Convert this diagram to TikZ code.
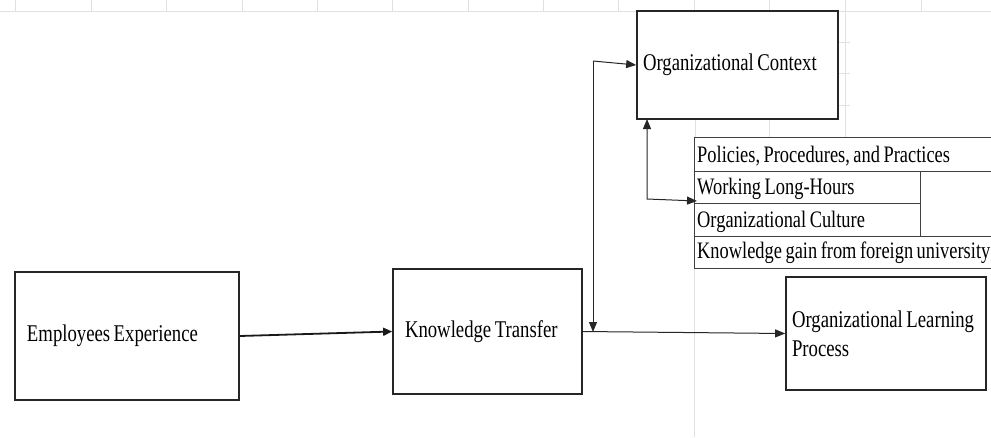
\documentclass[tikz,border=0pt]{standalone}
\usepackage{fontspec}
\setmainfont{Liberation Serif}
\usetikzlibrary{arrows.meta}
\newcommand{\sq}[1]{\scalebox{0.78}[1]{\spaceskip=0.19em plus 0.05em\relax #1}}
\tikzset{
  box/.style={draw=black!85, line width=1.7pt, rectangle, align=left, anchor=center,
    font=\fontsize{24}{29}\selectfont, inner ysep=0pt},
  cell/.style={anchor=base west, inner sep=0pt, font=\fontsize{23.6}{28}\selectfont},
  tline/.style={draw=black!75, line width=0.9pt},
  grid/.style={draw=black!12, line width=0.8pt},
  thinarrow/.style={draw=black!85, line width=1pt, -{Triangle[length=10pt,width=8pt]}},
  thickarrow/.style={draw=black!90, line width=1.8pt, -{Triangle[length=9pt,width=8pt]}},
  bothways/.style={draw=black!85, line width=1pt, {Triangle[length=10pt,width=8pt]}-{Triangle[length=10pt,width=8pt]}}
}
\begin{document}
\begin{tikzpicture}[x=1pt,y=-1pt]
\useasboundingbox (0,0) rectangle (991,437);
% faint spreadsheet grid
\foreach \gx in {15,91,166,242,317,392,468,543,618,694,769,845,921}
  \draw[grid] (\gx,0) -- (\gx,11);
\draw[grid] (0,11) -- (991,11);
\draw[grid] (845,11) -- (845,137);
\draw[grid] (695,119) -- (695,137);
\draw[grid] (769,119) -- (769,137);
\foreach \gy in {42,73,105}
  \draw[grid] (838,\gy) -- (850,\gy);
\draw[grid] (694,268) -- (694,437);

% boxes
\node[box, minimum height=128pt, text width=200pt, inner xsep=12pt] (ee) at (127,336) {\raisebox{-4pt}{\sq{Employees Experience}}};
\node[box, minimum height=125pt, text width=165pt, inner xsep=12pt] (kt) at (487.5,331.5) {\raisebox{-2pt}{\sq{Knowledge Transfer}}};
\node[box, minimum height=108pt, text width=189pt, inner xsep=6pt] (oc) at (737.5,65) {\raisebox{-3pt}{\sq{Organizational Context}}};
\node[box, minimum height=113pt, text width=188pt, inner xsep=6pt] (olp) at (886,333.5) {\sq{Organizational Learning}\\\sq{Process}};

% table
\draw[tline] (694,137) -- (991,137);
\draw[tline] (694,171) -- (991,171);
\draw[tline] (694,203) -- (920,203);
\draw[tline] (694,236) -- (991,236);
\draw[tline] (694,268) -- (991,268);
\draw[tline] (694,137) -- (694,268);
\draw[tline] (920,171) -- (920,236);
\node[cell] (r1) at (697,162) {\sq{Policies, Procedures, and Practices}};
\node[cell] (r2) at (697,194) {\sq{Working Long-Hours}};
\node[cell] (r3) at (697,227) {\sq{Organizational Culture}};
\node[cell] (r4) at (697,258) {\sq{Knowledge gain from foreign university}};

% connectors
\coordinate (top) at (593,61);
\coordinate (jn) at (593,332);
\coordinate (ocb) at (647,119);
\coordinate (bend) at (647,199);
\coordinate (r2in) at (697,201);
\draw[thickarrow] (ee.east) -- (kt.west);
\draw[thinarrow] (kt.east) -- (olp.west);
\draw[thinarrow] (top) -- (jn);
\draw[thinarrow] (top) -- (oc.west);
\draw[bothways] (ocb) -- (bend) -- (r2in);
\end{tikzpicture}
\end{document}
